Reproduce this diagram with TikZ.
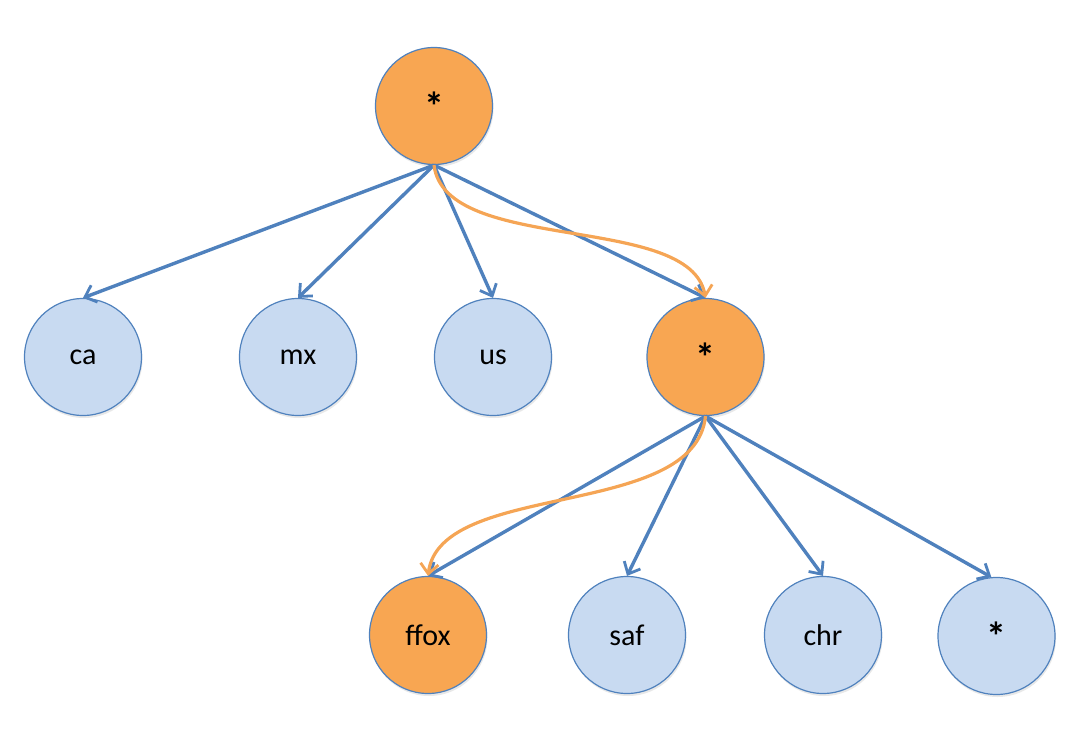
\documentclass[tikz,border=0pt]{standalone}
\usepackage{fontspec}
\setmainfont{Carlito}
\usetikzlibrary{arrows.meta,shadows}
\definecolor{edgeblue}{RGB}{79,129,189}
\definecolor{lightfill}{RGB}{200,218,241}
\definecolor{orangefill}{RGB}{248,166,82}
\definecolor{orangeline}{RGB}{245,165,85}
\tikzset{
  treenode/.style={circle, minimum size=117pt, inner sep=0pt, draw=edgeblue, line width=1.2pt,
    font=\fontsize{30}{36}\selectfont,
    drop shadow={opacity=0.18, shadow xshift=1pt, shadow yshift=-2.5pt}},
  bluenode/.style={treenode, fill=lightfill},
  orangenode/.style={treenode, fill=orangefill},
  startext/.style={font=\fontsize{40}{44}\selectfont\bfseries, text depth=-6pt},
  treeedge/.style={draw=edgeblue, line width=3.4pt, -{Straight Barb[length=10pt,width=18pt,line width=2.8pt]}},
  pathedge/.style={draw=orangeline, line width=3.2pt, -{Straight Barb[length=10pt,width=18pt,line width=2.8pt]}}
}
\begin{document}
\begin{tikzpicture}[x=1pt,y=-1pt]
\useasboundingbox (0,0) rectangle (1090,736);
\node[orangenode] (root) at (434,106) {};
\node[startext] (rootl) at (root.center) {*};
\node[bluenode] (ca) at (83,357) {ca};
\node[bluenode] (mx) at (298,357) {mx};
\node[bluenode] (us) at (493,357) {us};
\node[orangenode] (mid) at (705.5,357) {};
\node[startext] (midl) at (mid.center) {*};
\node[orangenode] (ffox) at (428,635) {ffox};
\node[bluenode] (saf) at (627,635) {saf};
\node[bluenode] (chr) at (823,635) {chr};
\node[bluenode] (star) at (996.5,636) {};
\node[startext] (starl) at (star.center) {*};

\draw[treeedge] (root.south) -- (ca.north);
\draw[treeedge] (root.south) -- (mx.north);
\draw[treeedge] (root.south) -- (us.north);
\draw[treeedge] (root.south) -- (mid.north);
\draw[treeedge] (mid.south) -- (ffox.north);
\draw[treeedge] (mid.south) -- (saf.north);
\draw[treeedge] (mid.south) -- (chr.north);
\draw[treeedge] (mid.south) -- (star.95);

\draw[pathedge] (root.south) .. controls (445,255) and (690,212) .. (mid.north);
\draw[pathedge] (mid.south) .. controls (695,520) and (440,480) .. (ffox.north);
\end{tikzpicture}
\end{document}
